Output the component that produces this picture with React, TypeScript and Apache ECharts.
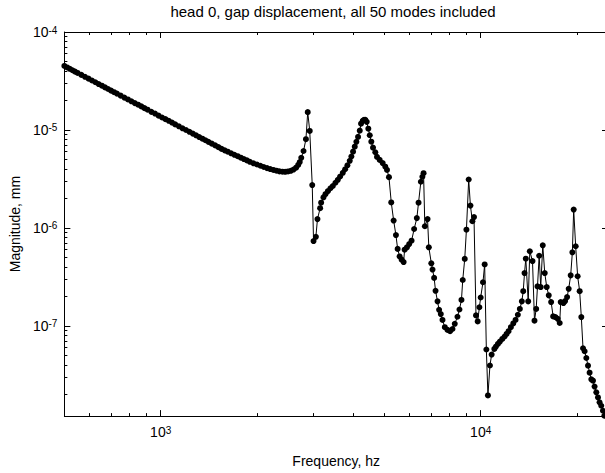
import { useEffect, useRef } from 'react';
import * as echarts from 'echarts';

// Frequency (Hz) and gap-displacement magnitude (mm)
const freqHz = [
  500, 510, 520, 530, 540, 550, 565, 580, 595, 610, 625, 640, 655, 670, 685, 700, 715, 730, 750, 770,
  790, 810, 830, 850, 870, 890, 910, 935, 960, 985, 1010, 1035, 1060, 1085, 1110, 1140, 1170, 1200, 1230, 1260,
  1290, 1320, 1350, 1380, 1410, 1445, 1480, 1515, 1550, 1585, 1620, 1660, 1700, 1740, 1780, 1820, 1860, 1900, 1950, 2000,
  2050, 2100, 2150, 2200, 2250, 2300, 2350, 2400, 2450, 2500, 2550, 2600, 2650, 2690, 2720, 2750, 2795, 2844, 2881, 2923,
  2976, 3004, 3055, 3090, 3150, 3173, 3226, 3273, 3330, 3393, 3451, 3517, 3578, 3638, 3709, 3770, 3833, 3899, 3944, 3992,
  4041, 4088, 4138, 4189, 4228, 4280, 4320, 4361, 4405, 4456, 4501, 4553, 4609, 4685, 4742, 4835, 4941, 5034, 5096, 5169,
  5255, 5346, 5435, 5502, 5581, 5662, 5744, 5785, 5881, 5978, 6082, 6196, 6317, 6395, 6502, 6573, 6630, 6692, 6823, 6887,
  7012, 7072, 7154, 7227, 7331, 7415, 7506, 7598, 7726, 7877, 8025, 8164, 8299, 8462, 8584, 8709, 8790, 8917, 9026, 9175,
  9289, 9422, 9531, 9669, 9787, 9908, 10000, 10167, 10292, 10418, 10537, 10690, 10822, 11033, 11161, 11322, 11485, 11685, 11880, 12050,
  12224, 12428, 12645, 12853, 13067, 13256, 13447, 13583, 13711, 13838, 14079, 14242, 14521, 14730, 14911, 15052, 15236, 15408, 15634, 15859,
  16087, 16322, 16604, 16847, 17125, 17411, 17661, 17790, 18138, 18360, 18624, 18840, 19112, 19346, 19530, 19810, 20095, 20388, 20634, 20888,
  21130, 21390, 21650, 21900, 22170, 22440, 22700, 22980, 23260, 23530, 23820, 24110, 24340,
];

const magnitudeMm = [
  4.50e-5, 4.35e-5, 4.21e-5, 4.07e-5, 3.94e-5, 3.82e-5, 3.65e-5, 3.49e-5, 3.34e-5, 3.20e-5, 3.07e-5, 2.94e-5, 2.83e-5, 2.72e-5, 2.62e-5, 2.52e-5, 2.43e-5, 2.35e-5, 2.24e-5, 2.14e-5,
  2.05e-5, 1.96e-5, 1.88e-5, 1.81e-5, 1.74e-5, 1.67e-5, 1.61e-5, 1.53e-5, 1.47e-5, 1.40e-5, 1.34e-5, 1.29e-5, 1.24e-5, 1.19e-5, 1.14e-5, 1.09e-5, 1.04e-5, 9.99e-6, 9.57e-6, 9.18e-6,
  8.82e-6, 8.47e-6, 8.15e-6, 7.85e-6, 7.56e-6, 7.25e-6, 6.96e-6, 6.68e-6, 6.41e-6, 6.19e-6, 6.00e-6, 5.78e-6, 5.58e-6, 5.40e-6, 5.21e-6, 5.05e-6, 4.89e-6, 4.73e-6, 4.57e-6, 4.44e-6,
  4.31e-6, 4.19e-6, 4.08e-6, 3.99e-6, 3.91e-6, 3.84e-6, 3.78e-6, 3.75e-6, 3.74e-6, 3.77e-6, 3.83e-6, 3.94e-6, 4.12e-6, 4.40e-6, 4.70e-6, 5.20e-6, 6.10e-6, 8.05e-6, 1.52e-5, 9.77e-6,
  2.74e-6, 7.35e-7, 8.12e-7, 1.23e-6, 1.59e-6, 1.81e-6, 2.05e-6, 2.21e-6, 2.37e-6, 2.54e-6, 2.68e-6, 2.89e-6, 3.10e-6, 3.35e-6, 3.65e-6, 3.97e-6, 4.36e-6, 4.84e-6, 5.36e-6, 6.01e-6,
  6.75e-6, 7.57e-6, 8.50e-6, 9.84e-6, 1.16e-5, 1.24e-5, 1.27e-5, 1.27e-5, 1.21e-5, 1.03e-5, 8.83e-6, 7.59e-6, 6.60e-6, 5.92e-6, 5.31e-6, 4.95e-6, 4.59e-6, 4.22e-6, 3.91e-6, 3.30e-6,
  1.82e-6, 1.19e-6, 8.45e-7, 6.11e-7, 5.12e-7, 4.74e-7, 4.48e-7, 6.00e-7, 6.33e-7, 6.84e-7, 7.41e-7, 9.75e-7, 1.26e-6, 1.81e-6, 2.96e-6, 3.33e-6, 3.62e-6, 1.04e-6, 1.23e-6, 6.34e-7,
  4.35e-7, 3.76e-7, 3.09e-7, 2.28e-7, 1.78e-7, 1.46e-7, 1.32e-7, 1.15e-7, 9.70e-8, 9.10e-8, 8.83e-8, 9.30e-8, 1.05e-7, 1.24e-7, 1.47e-7, 1.84e-7, 2.94e-7, 4.83e-7, 9.60e-7, 3.12e-6,
  1.69e-6, 1.17e-6, 1.29e-6, 1.28e-7, 1.11e-7, 1.55e-7, 1.95e-7, 2.79e-7, 4.24e-7, 5.74e-8, 1.95e-8, 3.94e-8, 5.10e-8, 5.82e-8, 6.15e-8, 6.55e-8, 6.92e-8, 7.36e-8, 7.79e-8, 8.28e-8,
  8.83e-8, 9.70e-8, 1.06e-7, 1.15e-7, 1.30e-7, 1.49e-7, 1.78e-7, 2.26e-7, 3.46e-7, 4.85e-7, 1.78e-7, 5.78e-7, 4.59e-7, 1.13e-7, 1.49e-7, 2.53e-7, 5.20e-7, 2.49e-7, 6.65e-7, 3.46e-7,
  2.49e-7, 2.05e-7, 1.75e-7, 1.25e-7, 1.23e-7, 1.18e-7, 1.07e-7, 1.75e-7, 1.71e-7, 1.79e-7, 1.97e-7, 2.39e-7, 3.28e-7, 5.64e-7, 1.54e-6, 6.50e-7, 3.21e-7, 2.26e-7, 1.23e-7, 5.91e-8,
  5.51e-8, 4.70e-8, 3.93e-8, 3.33e-8, 2.85e-8, 2.76e-8, 2.40e-8, 2.10e-8, 1.86e-8, 1.66e-8, 1.53e-8, 1.36e-8, 1.21e-8,
];

const xMajorTicks = [1000, 10000];
const xMinorTicks = [600, 700, 800, 900, 2000, 3000, 4000, 5000, 6000, 7000, 8000, 9000, 20000];
const yMajorTicks = [1e-7, 1e-6, 1e-5, 1e-4];
const yMinorTicks = [
  2e-8, 3e-8, 4e-8, 5e-8, 6e-8, 7e-8, 8e-8, 9e-8,
  2e-7, 3e-7, 4e-7, 5e-7, 6e-7, 7e-7, 8e-7, 9e-7,
  2e-6, 3e-6, 4e-6, 5e-6, 6e-6, 7e-6, 8e-6, 9e-6,
  2e-5, 3e-5, 4e-5, 5e-5, 6e-5, 7e-5, 8e-5, 9e-5,
];

const TITLE = 'head 0, gap displacement, all 50 modes included';
const X_NAME = 'Frequency, hz';
const Y_NAME = 'Magnitude, mm';
const X_MIN = 500;
const X_MAX = 25000;
const Y_MIN = 1.2e-8;
const Y_MAX = 1e-4;

const FONT = '"Liberation Sans", Arial, sans-serif';

const rich = {
  b: { fontSize: 14, fontFamily: FONT, color: '#000', lineHeight: 14, verticalAlign: 'middle' },
  s: { fontSize: 10, fontFamily: FONT, color: '#000', lineHeight: 10, verticalAlign: 'top', padding: [0, 0, 14, 0] },
};

const expLabel = (v: number) => '{b|10}{s|' + Math.round(Math.log10(v)) + '}';

function makeAxis(
  kind: 'x' | 'y',
  position: string,
  ticks: number[],
  tickLen: number,
  withLine: boolean,
  withLabels: boolean,
  name?: string,
) {
  const axis: any = {
    type: 'log',
    logBase: 10,
    position,
    min: kind === 'x' ? X_MIN : Y_MIN,
    max: kind === 'x' ? X_MAX : Y_MAX,
    axisLine: { show: withLine, onZero: false, lineStyle: { color: '#000', width: 1 } },
    axisTick: { show: true, inside: true, length: tickLen, customValues: ticks, lineStyle: { color: '#000', width: 1 } },
    axisLabel: withLabels
      ? { show: true, customValues: ticks, formatter: expLabel, rich, margin: kind === 'x' ? 9 : 7, hideOverlap: false }
      : { show: false },
    splitLine: { show: false },
    minorTick: { show: false },
    minorSplitLine: { show: false },
  };
  if (name) {
    axis.name = name;
    axis.nameLocation = 'middle';
    axis.nameGap = kind === 'x' ? 34 : 32;
    axis.nameTextStyle = { fontSize: 14, fontFamily: FONT, color: '#000' };
  }
  return axis;
}

export default function App() {
  const ref = useRef<HTMLDivElement>(null);

  useEffect(() => {
    if (!ref.current) return;
    const chart = echarts.init(ref.current, undefined, { renderer: 'svg' });
    const data = freqHz.map((f, i) => [f, magnitudeMm[i]]);

    chart.setOption({
      animation: false,
      backgroundColor: '#fff',
      grid: { left: 62, right: 2, top: 32, bottom: 53, containLabel: false },
      graphic: [
        {
          type: 'text',
          x: 333,
          y: 11,
          style: {
            text: TITLE,
            align: 'center',
            verticalAlign: 'middle',
            fontSize: 15,
            fontFamily: FONT,
            fill: '#000',
          },
        },
      ],
      xAxis: [
        makeAxis('x', 'bottom', xMajorTicks, 6, true, true, X_NAME),
        makeAxis('x', 'bottom', xMinorTicks, 3, false, false),
        makeAxis('x', 'top', xMajorTicks, 6, true, false),
        makeAxis('x', 'top', xMinorTicks, 3, false, false),
      ],
      yAxis: [
        makeAxis('y', 'left', yMajorTicks, 6, true, true, Y_NAME),
        makeAxis('y', 'left', yMinorTicks, 3, false, false),
        makeAxis('y', 'right', yMajorTicks, 6, true, false),
        makeAxis('y', 'right', yMinorTicks, 3, false, false),
      ],
      series: [
        {
          type: 'line',
          xAxisIndex: 0,
          yAxisIndex: 0,
          data,
          symbol: 'circle',
          symbolSize: 6,
          showSymbol: true,
          showAllSymbol: true,
          lineStyle: { color: '#000', width: 1 },
          itemStyle: { color: '#000' },
          emphasis: { disabled: true },
          clip: true,
        },
      ],
    });

    return () => chart.dispose();
  }, []);

  return (
    <div style={{ position: 'absolute', left: 0, top: 0, width: 605, height: 473, overflow: 'hidden', background: '#fff' }}>
      <div ref={ref} style={{ width: 610, height: 473 }} />
    </div>
  );
}
